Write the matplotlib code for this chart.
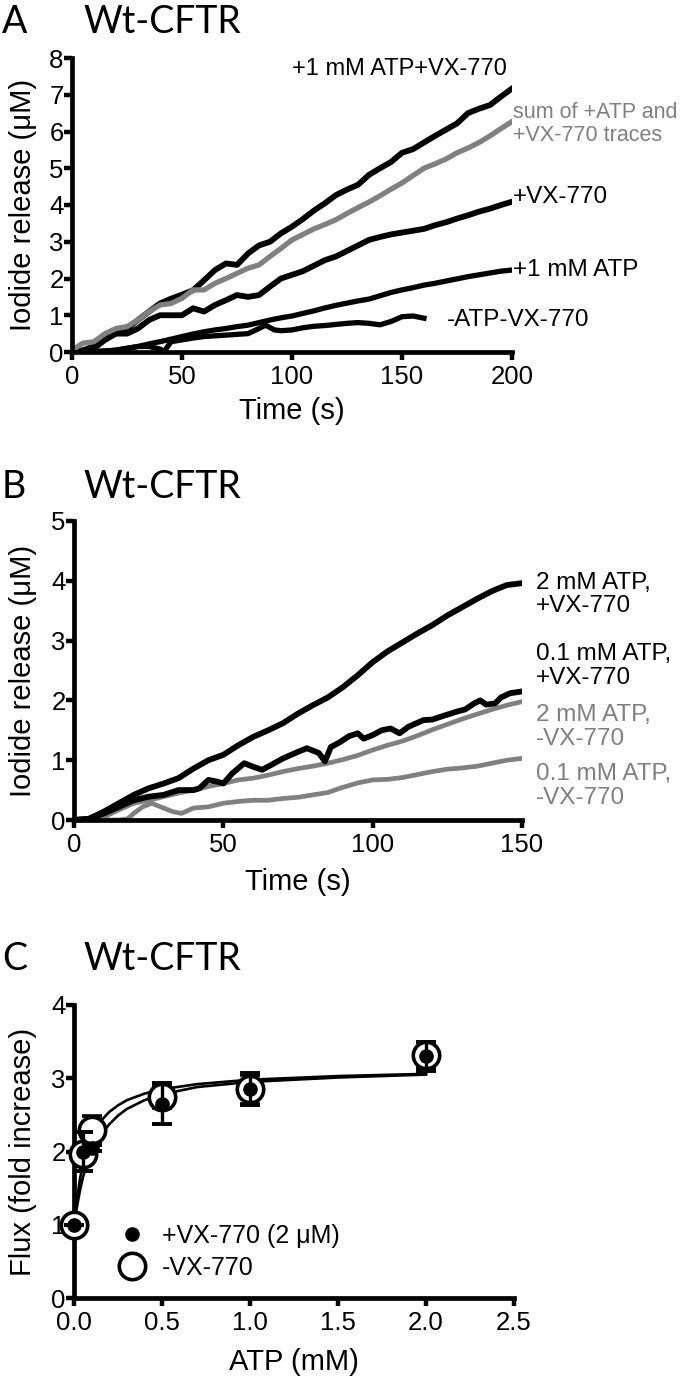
import numpy as np
import matplotlib
matplotlib.use("Agg")
import matplotlib.pyplot as plt
from matplotlib.lines import Line2D

plt.rcParams['font.family'] = ['Liberation Sans', 'DejaVu Sans']

# ---- Panel A: iodide release traces (uM) vs time (s)
tA = [0, 5, 10, 15, 20, 25, 30, 35, 40, 45, 50, 55, 60, 65, 70, 75, 80, 85, 90, 95, 100,
      105, 110, 115, 120, 125, 130, 135, 140, 145, 150, 155, 160, 165, 170, 175, 180, 185, 190, 195, 200]
a_atp_vx = [0.0, 0.05, 0.15, 0.35, 0.6, 0.64, 0.87, 1.1, 1.32, 1.45, 1.56, 1.68, 1.95, 2.23, 2.41, 2.37,
            2.68, 2.9, 3.0, 3.23, 3.41, 3.62, 3.85, 4.05, 4.27, 4.42, 4.55, 4.82, 5.0, 5.17, 5.42,
            5.52, 5.7, 5.88, 6.05, 6.22, 6.5, 6.62, 6.72, 6.95, 7.17]
a_sum = [0.05, 0.24, 0.28, 0.5, 0.64, 0.69, 0.87, 1.1, 1.28, 1.32, 1.46, 1.69, 1.69, 1.87, 2.0, 2.14,
         2.28, 2.37, 2.6, 2.82, 3.05, 3.2, 3.35, 3.47, 3.6, 3.77, 3.93, 4.08, 4.25, 4.43, 4.6,
         4.8, 5.0, 5.12, 5.25, 5.42, 5.55, 5.7, 5.88, 6.08, 6.27]
a_vx = [0.0, 0.0, 0.1, 0.33, 0.5, 0.5, 0.64, 0.87, 1.0, 1.0, 1.0, 1.19, 1.1, 1.28, 1.41, 1.55,
        1.5, 1.55, 1.78, 2.0, 2.1, 2.2, 2.35, 2.5, 2.6, 2.75, 2.9, 3.05, 3.13, 3.2, 3.25,
        3.3, 3.35, 3.45, 3.53, 3.63, 3.72, 3.82, 3.9, 4.0, 4.09]
a_atp = [0.0, 0.0, 0.02, 0.03, 0.05, 0.1, 0.15, 0.22, 0.28, 0.35, 0.42, 0.49, 0.55, 0.6, 0.64, 0.69,
         0.73, 0.8, 0.87, 0.93, 0.98, 1.05, 1.12, 1.2, 1.27, 1.33, 1.39, 1.44, 1.53, 1.62, 1.69,
         1.75, 1.82, 1.87, 1.93, 1.99, 2.05, 2.1, 2.15, 2.2, 2.23]
t_ctrl = [0, 5, 10, 15, 20, 25, 30, 35, 40, 42, 45, 50, 55, 60, 65, 70, 75, 80, 85, 88, 92, 95,
          100, 105, 110, 115, 120, 125, 130, 135, 140, 145, 150, 155, 160]
a_ctrl = [0.0, 0.0, 0.0, 0.02, 0.05, 0.1, 0.15, 0.15, 0.08, 0.02, 0.28, 0.33, 0.38, 0.42, 0.44,
          0.46, 0.48, 0.5, 0.64, 0.73, 0.6, 0.58, 0.6, 0.66, 0.7, 0.72, 0.75, 0.78, 0.8, 0.78,
          0.74, 0.83, 0.96, 0.98, 0.92]

# ---- Panel B
tB = [0, 5, 10, 15, 20, 25, 30, 35, 40, 45, 50, 55, 60, 65, 70, 75, 80, 85, 90, 95, 100,
      105, 110, 115, 120, 125, 130, 135, 140, 145, 150]
b_2mm_vx = [0.0, 0.02, 0.14, 0.28, 0.42, 0.53, 0.61, 0.7, 0.86, 1.0, 1.09, 1.25, 1.39, 1.5, 1.62,
            1.78, 1.92, 2.05, 2.22, 2.42, 2.64, 2.82, 2.97, 3.12, 3.26, 3.42, 3.56, 3.7, 3.83,
            3.93, 3.96]
t_01_vx = [0, 5, 10, 15, 20, 25, 30, 35, 40, 42, 45, 48, 50, 53, 57, 60, 63, 66, 70, 75, 78, 82,
           84, 86, 89, 92, 95, 97, 100, 103, 106, 109, 112, 117, 120, 123, 128, 131, 134, 136,
           138, 141, 143, 146, 150]
b_01_vx = [0.0, 0.02, 0.11, 0.22, 0.33, 0.39, 0.42, 0.5, 0.5, 0.53, 0.67, 0.64, 0.61, 0.78, 0.95,
           0.89, 0.84, 0.92, 1.03, 1.14, 1.2, 1.12, 0.98, 1.22, 1.3, 1.4, 1.45, 1.36, 1.42, 1.5,
           1.53, 1.45, 1.56, 1.67, 1.68, 1.73, 1.81, 1.85, 1.95, 2.0, 1.93, 1.95, 2.05, 2.12, 2.15]
b_2mm = [0.0, 0.0, 0.05, 0.17, 0.28, 0.33, 0.39, 0.45, 0.5, 0.56, 0.61, 0.67, 0.7, 0.75, 0.81,
         0.86, 0.9, 0.95, 1.01, 1.08, 1.17, 1.25, 1.32, 1.41, 1.51, 1.6, 1.69, 1.77, 1.85, 1.92, 1.98]
t_01 = [0, 5, 10, 15, 18, 20, 23, 26, 30, 33, 36, 40, 45, 50, 55, 60, 65, 70, 75, 80, 85, 89,
        95, 100, 105, 110, 115, 120, 125, 130, 135, 140, 145, 150]
b_01 = [0.0, 0.0, 0.0, 0.0, 0.02, 0.11, 0.22, 0.28, 0.2, 0.14, 0.11, 0.2, 0.22, 0.28, 0.31, 0.33,
        0.33, 0.36, 0.38, 0.42, 0.46, 0.53, 0.62, 0.67, 0.68, 0.71, 0.76, 0.81, 0.85, 0.87, 0.9,
        0.95, 1.0, 1.03]

# ---- Panel C: flux vs ATP
atp = [0.0, 0.05, 0.1, 0.5, 1.0, 2.0]
flux_vx = [1.0, 2.0, 2.05, 2.65, 2.85, 3.3]
err_vx = [0.0, 0.27, 0.04, 0.28, 0.22, 0.2]
flux_novx = [1.0, 1.97, 2.3, 2.75, 2.85, 3.32]
err_novx = [0.0, 0.05, 0.18, 0.15, 0.2, 0.18]
fit_x = [0.0, 0.01, 0.02, 0.035, 0.05, 0.075, 0.1, 0.15, 0.2, 0.25, 0.3, 0.4, 0.5, 0.7, 1.0, 1.5, 2.0]
fit_a = [1.0, 1.22, 1.4, 1.64, 1.82, 2.04, 2.2, 2.41, 2.54, 2.63, 2.7, 2.79, 2.85, 2.92, 2.98, 3.03, 3.06]
fit_b = [1.0, 1.15, 1.29, 1.48, 1.64, 1.85, 2.0, 2.22, 2.37, 2.49, 2.58, 2.7, 2.78, 2.88, 2.95, 3.01, 3.05]

GRAY = '#808080'
W, H = 680, 1380
fig = plt.figure(figsize=(W / 100, H / 100), dpi=100)


def px_axes(left, top, right, bottom):
    return fig.add_axes([left / W, 1 - bottom / H, (right - left) / W, (bottom - top) / H])


def style(ax, x_left_px):
    for s in ['top', 'right']:
        ax.spines[s].set_visible(False)
    for s in ['left', 'bottom']:
        ax.spines[s].set_linewidth(3.4)
    ax.tick_params(direction='out', length=6, width=3.2, labelsize=18.5)
    ax.tick_params(axis='y', pad=0)
    ax.tick_params(axis='x', pad=3)
    # rotated y label: its lower (right-hand) edge sits ~37 px from the figure's left edge
    w = ax.get_position().width * W
    ax.yaxis.set_label_coords((37 - x_left_px) / w, 0.5)


def heading(letter, base_y):
    fig.text(2 / W, 1 - base_y / H, letter, family='Lato', fontsize=27, va='baseline')
    fig.text(83 / W, 1 - base_y / H, 'Wt-CFTR', family='Lato', fontsize=27, va='baseline')


# Panel A
axA = px_axes(72, 58, 512, 352)
axA.plot(tA, a_atp_vx, color='black', lw=4.2)
axA.plot(tA, a_vx, color='black', lw=4.2)
axA.plot(tA, a_atp, color='black', lw=3.8)
axA.plot(t_ctrl, a_ctrl, color='black', lw=3.8)
axA.plot(tA, a_sum, color=GRAY, lw=3.8)
axA.set_xlim(0, 200)
axA.set_ylim(0, 8)
axA.set_xticks([0, 50, 100, 150, 200])
axA.set_yticks(range(0, 9))
axA.set_xlabel('Time (s)', fontsize=21, labelpad=6)
axA.set_ylabel('Iodide release (\u03bcM)', fontsize=21)
style(axA, 72)
axA.text(197.7, 7.7, '+1 mM ATP+VX-770', fontsize=17, ha='right', va='center', clip_on=False)
axA.text(200.5, 6.53, 'sum of +ATP and', fontsize=15.5, color=GRAY, va='center', clip_on=False)
axA.text(200.5, 5.9, '+VX-770 traces', fontsize=15.5, color=GRAY, va='center', clip_on=False)
axA.text(200.5, 4.22, '+VX-770', fontsize=17.5, va='center', clip_on=False)
axA.text(200.5, 2.23, '+1 mM ATP', fontsize=17.5, va='center', clip_on=False)
axA.text(170.5, 0.87, '-ATP-VX-770', fontsize=17.5, va='center', clip_on=False)
heading('A', 33)

# Panel B
axB = px_axes(74, 521, 522, 820)
axB.plot(t_01, b_01, color=GRAY, lw=3.4)
axB.plot(tB, b_2mm, color=GRAY, lw=3.4)
axB.plot(tB, b_2mm_vx, color='black', lw=4.2)
axB.plot(t_01_vx, b_01_vx, color='black', lw=4.2)
axB.set_xlim(0, 150)
axB.set_ylim(0, 5)
axB.set_xticks([0, 50, 100, 150])
axB.set_yticks(range(0, 6))
axB.set_xlabel('Time (s)', fontsize=21, labelpad=8)
axB.set_ylabel('Iodide release (\u03bcM)', fontsize=21)
style(axB, 74)
lab_kw = dict(fontsize=17.5, va='center', ha='left', linespacing=1.1, clip_on=False)
axB.text(154.7, 3.77, '2 mM ATP,\n+VX-770', color='black', **lab_kw)
axB.text(154.7, 2.58, '0.1 mM ATP,\n+VX-770', color='black', **lab_kw)
axB.text(154.7, 1.55, '2 mM ATP,\n-VX-770', color=GRAY, **lab_kw)
axB.text(154.7, 0.57, '0.1 mM ATP,\n-VX-770', color=GRAY, **lab_kw)
heading('B', 498)

# Panel C
axC = px_axes(74, 1005, 514, 1298)
axC.plot(fit_x, fit_a, color='black', lw=1.9, clip_on=False)
axC.plot(fit_x, fit_b, color='black', lw=1.9, clip_on=False)
axC.errorbar(atp, flux_novx, yerr=err_novx, fmt='o', ms=19, mfc='white', mec='black', mew=2.6,
             ecolor='black', elinewidth=2.4, capsize=7.5, capthick=2.8, clip_on=False, zorder=3)
axC.errorbar(atp, flux_vx, yerr=err_vx, fmt='o', ms=9.5, mfc='black', mec='black',
             ecolor='black', elinewidth=2.4, capsize=7.5, capthick=2.8, clip_on=False, zorder=4)
axC.set_xlim(0, 2.5)
axC.set_ylim(0, 4)
axC.set_xticks([0, 0.5, 1.0, 1.5, 2.0, 2.5])
axC.set_xticklabels(['0.0', '0.5', '1.0', '1.5', '2.0', '2.5'])
axC.set_yticks(range(0, 5))
axC.set_xlabel('ATP (mM)', fontsize=21, labelpad=10)
axC.set_ylabel('Flux (fold increase)', fontsize=21)
style(axC, 74)
handles = [Line2D([], [], ls='none', marker='o', ms=9.5, mfc='black', mec='black'),
           Line2D([], [], ls='none', marker='o', ms=19, mfc='white', mec='black', mew=2.6)]
axC.legend(handles, ['+VX-770 (2 \u03bcM)', '-VX-770'], loc='upper left',
           bbox_to_anchor=(0.07, 0.295), frameon=False, fontsize=18, handlelength=1.2,
           handletextpad=0.6, labelspacing=0.3, borderpad=0)
heading('C', 970)

fig.savefig('out.png', dpi=100)
